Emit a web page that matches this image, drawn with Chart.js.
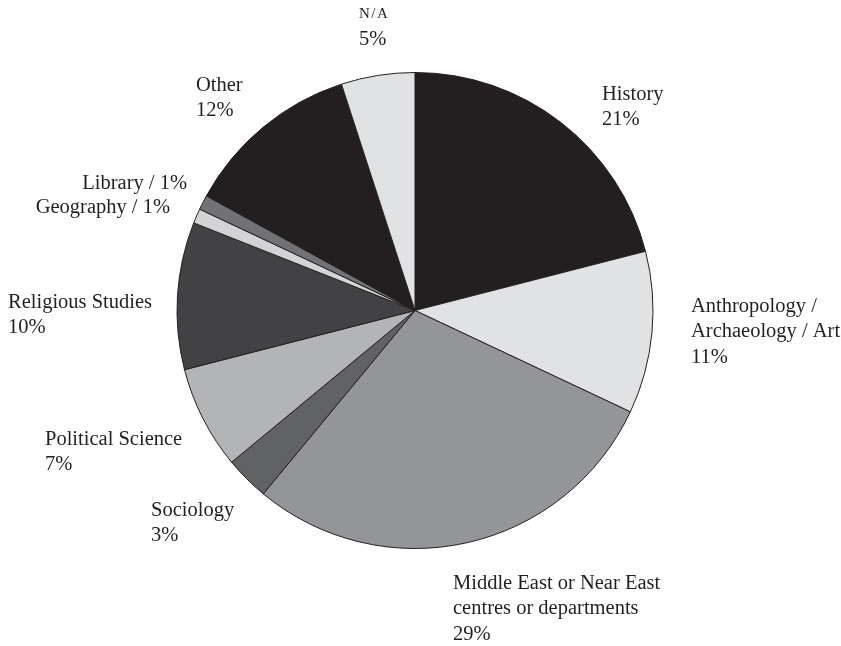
<!DOCTYPE html>
<html>
<head>
<meta charset="utf-8">
<script src="https://cdn.jsdelivr.net/npm/chart.js@4"></script>
<style>
  html, body { margin: 0; padding: 0; background: #fff; }
  #wrap { width: 841px; height: 646px; }
</style>
</head>
<body>
<div id="wrap"><canvas id="grafico" width="841" height="646"></canvas></div>
<script>
// Categorias e percentagens, em sentido horário a partir do topo
const categorias = [
    ['History'],
    ['Anthropology /', 'Archaeology / Art'],
    ['Middle East or Near East', 'centres or departments'],
    ['Sociology'],
    ['Political Science'],
    ['Religious Studies'],
    ['Geography'],
    ['Library'],
    ['Other'],
    ['N/A']
];
const percentagens = [21, 11, 29, 3, 7, 10, 1, 1, 12, 5];

const cores = [
    '#231f20', '#e1e2e4', '#939598', '#616264', '#b2b4b6',
    '#424143', '#d1d3d4', '#717275', '#231f20', '#e1e2e4'
];

// Posição dos rótulos em relação ao centro do gráfico (dx, dy da primeira linha, alinhamento)
const posRotulos = [
    [187, -216, 'left'],
    [276, -4, 'left'],
    [38, 273, 'left'],
    [-264, 200, 'left'],
    [-370, 129, 'left'],
    [-407, -8, 'left'],
    [-245, -103, 'right'],
    [-228, -127, 'right'],
    [-219, -225, 'left'],
    [-56, -296, 'left']
];
const entrelinha = 25.5;
const fonte = '20.5px "Liberation Serif", serif';

const pluginRotulos = {
    id: 'rotulos',
    afterDatasetsDraw(chart) {
        const ctx = chart.ctx;
        const arco = chart.getDatasetMeta(0).data[0];
        const cx = arco.x, cy = arco.y;
        ctx.save();
        ctx.fillStyle = '#231f20';
        ctx.textBaseline = 'middle';
        for (let i = 0; i < categorias.length; i++) {
            const [dx, dy, alinh] = posRotulos[i];
            const x = cx + dx;
            let y = cy + dy;
            ctx.textAlign = alinh;
            const nome = categorias[i];
            const pct = percentagens[i] + '%';
            ctx.font = fonte;
            if (alinh === 'right') {
                // rótulo numa linha só: "Library / 1%"
                ctx.fillText(nome[0] + ' / ' + pct, x, y);
                continue;
            }
            if (nome[0] === 'N/A') {
                // versaletes
                ctx.font = '15px "Liberation Serif", serif';
                ctx.letterSpacing = '1.5px';
                ctx.fillText('N/A', x, y);
                ctx.letterSpacing = '0px';
                y += entrelinha;
            } else {
                for (const linha of nome) {
                    ctx.fillText(linha, x, y);
                    y += entrelinha;
                }
            }
            ctx.font = fonte;
            ctx.fillText(pct, x, y);
        }
        ctx.restore();
    }
};

const dados = {
    labels: categorias.map(c => c.join(' ')),
    datasets: [{
        data: percentagens,
        backgroundColor: cores,
        borderColor: '#231f20',
        borderWidth: 1
    }]
};

const config = {
    type: 'pie',
    data: dados,
    options: {
        responsive: false,
        animation: false,
        layout: { padding: { top: 72, bottom: 97, left: 100, right: 111 } },
        plugins: {
            legend: { display: false },
            tooltip: { enabled: false }
        }
    },
    plugins: [pluginRotulos]
};

new Chart(document.getElementById('grafico'), config);
</script>
</body>
</html>
